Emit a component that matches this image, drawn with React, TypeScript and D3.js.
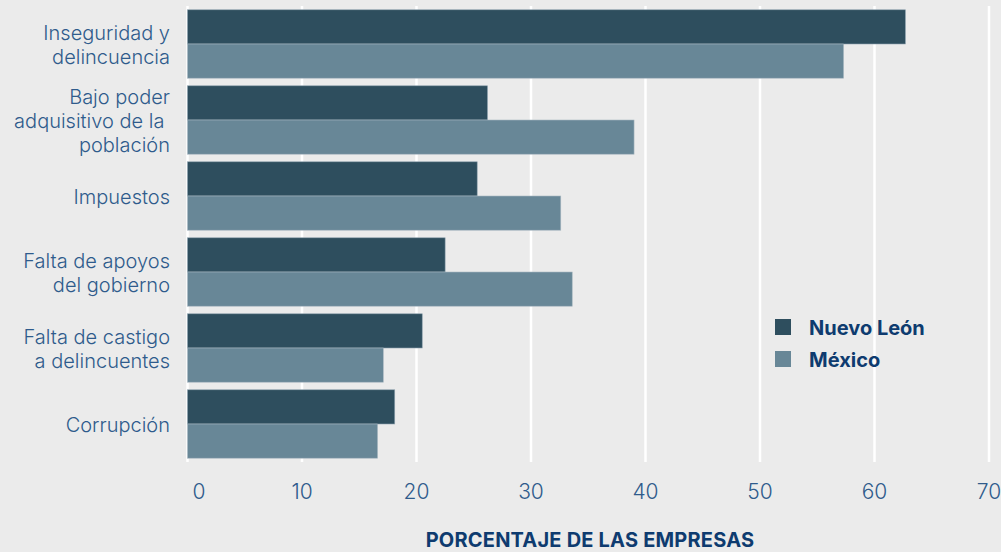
import React from "react";
import * as d3 from "d3";

const categories: string[][] = [
  ["Inseguridad y", "delincuencia"],
  ["Bajo poder", "adquisitivo de la\u00A0", "población"],
  ["Impuestos"],
  ["Falta de apoyos", "del gobierno"],
  ["Falta de castigo", "a delincuentes"],
  ["Corrupción"],
];
const nuevoLeon = [62.7, 26.2, 25.3, 22.5, 20.5, 18.1];
const mexico = [57.3, 39.0, 32.6, 33.6, 17.1, 16.6];
const ticks = [0, 10, 20, 30, 40, 50, 60, 70];
const seriesNames = ["Nuevo León", "México"];
const axisTitle = "PORCENTAJE DE LAS EMPRESAS";

const W = 1001;
const H = 552;
const BG = "#ebebeb";
const C_NL = "#2e4e5e";
const C_MX = "#688797";
const LABEL = "#2f5b8c";
const NAVY = "#0e3b6f";
const FONT = "Inter, 'Noto Sans', sans-serif";

export default function App() {
  const x = d3.scaleLinear().domain([0, 70]).range([187.5, 989]);
  const idx = categories.map((_, i) => String(i));
  const y = d3.scaleBand<string>().domain(idx).range([6, 462]).paddingInner(0.1).paddingOuter(0.05);
  const inner = d3.scaleBand<string>().domain(["nl", "mx"]).range([0, y.bandwidth()]);
  const colors = [C_NL, C_MX];

  return (
    <div style={{ position: "absolute", left: 0, top: 0, width: W, height: H }}>
      <svg width={W} height={H} style={{ display: "block" }}>
        <rect x={0} y={0} width={W} height={H} fill={BG} />
        {ticks.map((t) => (
          <line key={t} x1={x(t)} x2={x(t)} y1={6} y2={462} stroke="#ffffff" strokeWidth={2.5} />
        ))}
        {categories.map((_, i) => {
          const y0 = y(String(i)) as number;
          return (
            <g key={i}>
              <rect x={x(0)} y={y0 + (inner("nl") as number)} width={x(nuevoLeon[i]) - x(0)} height={inner.bandwidth()} fill={C_NL} stroke="#8ea2ae" strokeWidth={0.6} />
              <rect x={x(0)} y={y0 + (inner("mx") as number)} width={x(mexico[i]) - x(0)} height={inner.bandwidth()} fill={C_MX} stroke="#a9b8c1" strokeWidth={0.6} />
            </g>
          );
        })}
        {categories.map((lines, i) => {
          const c = (y(String(i)) as number) + y.bandwidth() / 2;
          const lh = 24;
          const start = c + 8 - ((lines.length - 1) * lh) / 2;
          return (
            <text key={i} textAnchor="end" fontFamily={FONT} fontWeight={300} fontSize={20} fill={LABEL}>
              {lines.map((l, j) => (
                <tspan key={j} x={170} y={start + j * lh} style={{ whiteSpace: "pre" }}>
                  {l}
                </tspan>
              ))}
            </text>
          );
        })}
        {ticks.map((t) => (
          <text key={t} x={t === 0 ? x(t) + 11.5 : x(t)} y={499} textAnchor="middle" fontFamily={FONT} fontWeight={300} fontSize={21} fill={LABEL}>
            {t}
          </text>
        ))}
        <text x={590} y={547} textAnchor="middle" fontFamily={FONT} fontWeight={700} fontSize={20} letterSpacing={0.2} fill={NAVY}>
          {axisTitle}
        </text>
        {seriesNames.map((s, i) => (
          <g key={s} transform={`translate(775, ${319 + i * 32})`}>
            <rect x={0} y={0} width={16} height={16} fill={colors[i]} />
            <text x={34} y={16} fontFamily={FONT} fontWeight={700} fontSize={20} fill={NAVY}>
              {s}
            </text>
          </g>
        ))}
      </svg>
    </div>
  );
}
